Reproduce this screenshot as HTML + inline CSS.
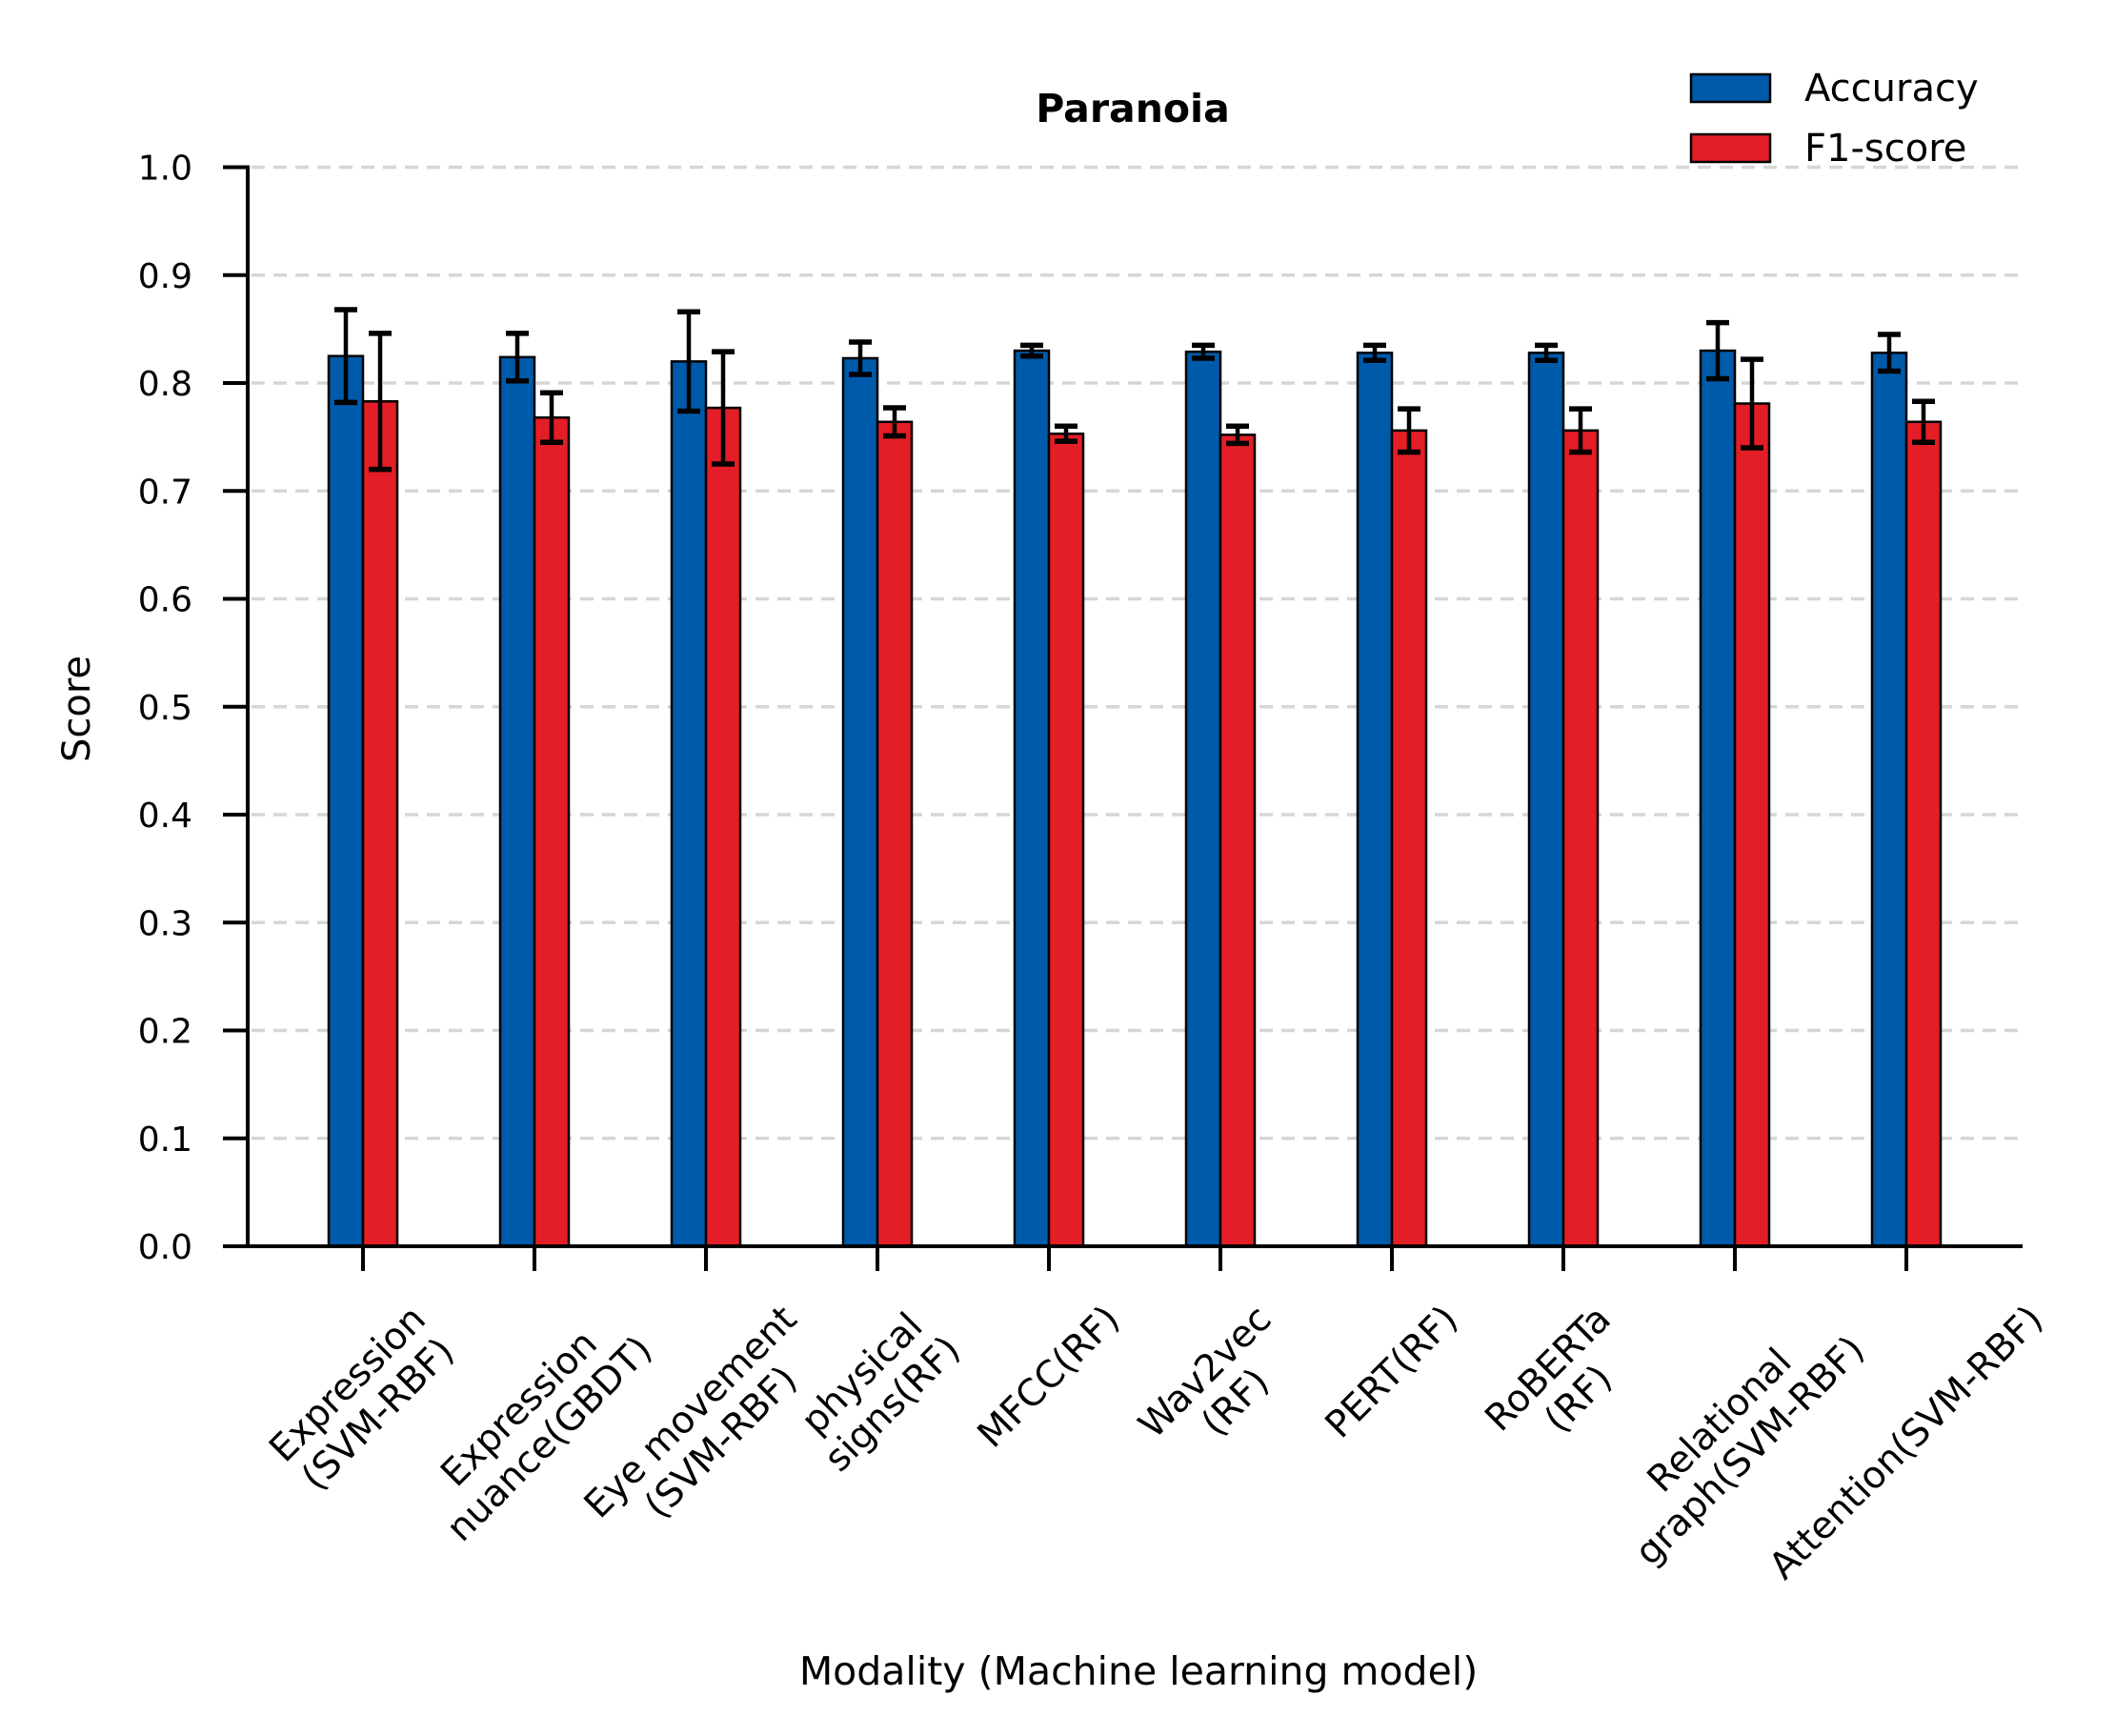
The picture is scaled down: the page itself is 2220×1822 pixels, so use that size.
<!DOCTYPE html>
<html><head><meta charset="utf-8"><style>
html,body{margin:0;padding:0;background:#fff;}
svg{display:block;font-family:"DejaVu Sans","Liberation Sans",sans-serif;}
</style></head><body>
<svg id="chart" width="2220" height="1822" viewBox="0 0 2220 1822">
<text x="1189" y="128" text-anchor="middle" font-size="41" font-weight="bold">Paranoia</text>
<text transform="translate(94,744) rotate(-90)" text-anchor="middle" font-size="40">Score</text>
<text x="1195" y="1768" text-anchor="middle" font-size="41">Modality (Machine learning model)</text>
<g>
<g><rect x="1775" y="78" width="83" height="29" fill="#005AAA" stroke="#000" stroke-width="2.5"/><text x="1894" y="106" font-size="40">Accuracy</text></g>
<g><rect x="1775" y="141" width="83" height="29" fill="#E31E26" stroke="#000" stroke-width="2.5"/><text x="1894" y="169" font-size="40">F1-score</text></g>
</g>
<g id="grid"></g><g id="bars"></g><g id="axes"></g>
</svg>
<script>
const categories = ["Expression\n(SVM-RBF)","Expression\nnuance(GBDT)","Eye movement\n(SVM-RBF)","physical\nsigns(RF)","MFCC(RF)","Wav2vec\n(RF)","PERT(RF)","RoBERTa\n(RF)","Relational\ngraph(SVM-RBF)","Attention(SVM-RBF)"];
const accuracy = [0.825,0.824,0.820,0.823,0.830,0.829,0.828,0.828,0.830,0.828];
const accuracyErr = [0.043,0.022,0.046,0.015,0.005,0.006,0.007,0.007,0.026,0.017];
const f1 = [0.783,0.768,0.777,0.764,0.753,0.752,0.756,0.756,0.781,0.764];
const f1Err = [0.063,0.023,0.052,0.013,0.007,0.008,0.02,0.02,0.041,0.019];
const yTicks = [0,0.1,0.2,0.3,0.4,0.5,0.6,0.7,0.8,0.9,1.0];

const NS="http://www.w3.org/2000/svg";
const X0=260, X1=2123, Y0=1308, Y1=175.5;
const firstX=381, step=180, bw=36;
const y = v => Y0 + (Y1-Y0)*v;
const x = i => firstX + step*i;
function mk(tag, attrs, parent){const e=document.createElementNS(NS,tag);for(const k in attrs)e.setAttribute(k,attrs[k]);parent.appendChild(e);return e;}
const grid=document.getElementById('grid'), bars=document.getElementById('bars'), axes=document.getElementById('axes');

yTicks.forEach((t,i)=>{
  if(t>0){
    const g=mk('line',{x1:X0+4,x2:X1,y1:y(t),y2:y(t),stroke:'#d6d6d6','stroke-width':3.5,'stroke-dasharray':'14 9'},grid);
    
    
  }
  const tk=mk('line',{x1:X0-26,x2:X0,y1:y(t),y2:y(t),stroke:'#000','stroke-width':4},axes);
  
  
  const lb=mk('text',{x:X0-58,y:y(t)+13,'text-anchor':'end','font-size':36},axes);
  lb.textContent=t.toFixed(1);
  
  
});

function drawBar(cx,v,err,color,name){
  const r=mk('rect',{x:cx-bw/2,y:y(v),width:bw,height:Y0-y(v),fill:color,stroke:'#000','stroke-width':2.5},bars);
  
  
  const g=mk('g',{stroke:'#000'},bars);
  
  
  mk('line',{x1:cx,x2:cx,y1:y(v+err),y2:y(v-err),'stroke-width':4.5},g);
  mk('line',{x1:cx-12,x2:cx+12,y1:y(v+err),y2:y(v+err),'stroke-width':5.5},g);
  mk('line',{x1:cx-12,x2:cx+12,y1:y(v-err),y2:y(v-err),'stroke-width':5.5},g);
}
categories.forEach((c,i)=>{
  drawBar(x(i)-bw/2,accuracy[i],accuracyErr[i],'#005AAA','bar-accuracy-'+(i+1));
  drawBar(x(i)+bw/2,f1[i],f1Err[i],'#E31E26','bar-f1-'+(i+1));
  const tk=mk('line',{x1:x(i),x2:x(i),y1:Y0,y2:Y0+26,stroke:'#000','stroke-width':4},axes);
  
  
  const g=mk('g',{},axes);
  
  
  const t=mk('text',{'text-anchor':'middle','font-size':39},g);
  const lines=c.split('\n');
  lines.forEach((ln,j)=>{const s=mk('tspan',{x:0,dy:j===0?0:45},t);s.textContent=ln;});
  const bb=t.getBBox();
  const w=bb.width,h=bb.height;
  const cy=bb.y+h/2;
  const rh=(w+h)/Math.SQRT2;
  t.setAttribute('transform','translate('+x(i)+','+(1362+rh/2)+') rotate(-45) translate(0,'+(-cy)+')');
});
const sl=mk('line',{x1:X0,x2:X0,y1:Y1-2,y2:Y0+1.5,stroke:'#000','stroke-width':4},axes);


const sb=mk('line',{x1:X0-26,x2:X1,y1:Y0,y2:Y0,stroke:'#000','stroke-width':4},axes);


</script>
</body></html>
